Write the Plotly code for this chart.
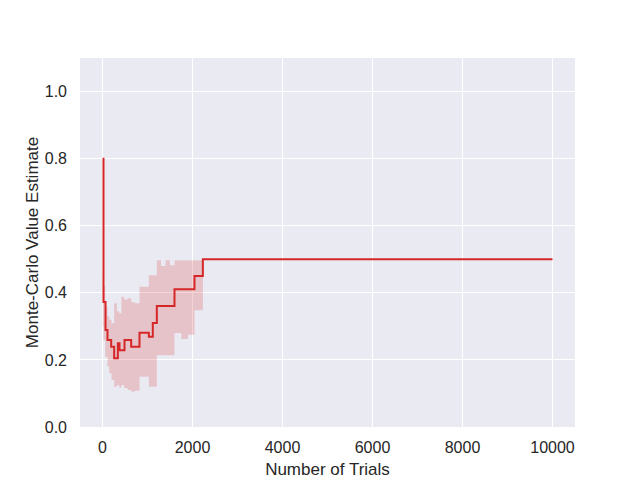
import plotly.graph_objects as go

# mean estimate (step line)
mean_trials = [1, 22, 67, 111, 193, 259, 341, 378, 489, 637, 822, 1030, 1118, 1207,
               1600, 2044, 2230, 10000]
mean_values = [0.80, 0.373, 0.289, 0.259, 0.239, 0.205, 0.250, 0.229, 0.259, 0.239,
               0.281, 0.269, 0.310, 0.361, 0.411, 0.450, 0.500, 0.500]

# confidence band edges
band_trials = [5, 22, 60, 110, 150, 200, 260, 320, 370, 420, 480, 560, 640, 720,
               822, 900, 1030, 1118, 1180, 1207, 1300, 1400, 1500, 1600, 1750, 1900,
               2044, 2230, 2231, 10000]
band_upper = [0.458, 0.420, 0.358, 0.330, 0.320, 0.309, 0.369, 0.345, 0.339, 0.388,
              0.380, 0.384, 0.372, 0.369, 0.418, 0.418, 0.452, 0.452, 0.452, 0.497,
              0.480, 0.497, 0.482, 0.497, 0.497, 0.497, 0.497, 0.497, 0.500, 0.500]
band_lower = [0.300, 0.259, 0.209, 0.180, 0.160, 0.140, 0.120, 0.125, 0.118, 0.125,
              0.116, 0.110, 0.105, 0.108, 0.150, 0.150, 0.120, 0.120, 0.120, 0.214,
              0.214, 0.214, 0.214, 0.280, 0.262, 0.275, 0.348, 0.348, 0.500, 0.500]

x_ticks = [0, 2000, 4000, 6000, 8000, 10000]
y_ticks = [0.0, 0.2, 0.4, 0.6, 0.8, 1.0]

red = '#d62728'

fig = go.Figure()

fig.add_trace(go.Scatter(
    x=band_trials, y=band_upper, mode='lines', line=dict(width=0, shape='hv'),
    showlegend=False, hoverinfo='skip'
))
fig.add_trace(go.Scatter(
    x=band_trials, y=band_lower, mode='lines', line=dict(width=0, shape='hv'),
    fill='tonexty', fillcolor='rgba(214,39,40,0.2)',
    showlegend=False, hoverinfo='skip'
))
fig.add_trace(go.Scatter(
    x=mean_trials, y=mean_values, mode='lines',
    line=dict(color=red, width=2, shape='hv'),
    showlegend=False
))

# page body adds an 8px offset, margins account for it
fig.update_layout(
    width=640, height=480,
    margin=dict(l=72, r=73, t=50, b=61),
    paper_bgcolor='white',
    plot_bgcolor='#EAEAF2',
    font=dict(family='Liberation Sans, Arial, sans-serif', size=16, color='#262626'),
)
fig.update_xaxes(
    range=[-500, 10500], tickvals=x_ticks, ticktext=[str(t) for t in x_ticks],
    showgrid=True, gridcolor='white', gridwidth=1.2, zeroline=False,
    ticks='', ticklabelstandoff=9, automargin=False,
    title=dict(text='Number of Trials', font=dict(size=17), standoff=8)
)
fig.update_yaxes(
    range=[0, 1.1], tickvals=y_ticks, tickformat='.1f',
    showgrid=True, gridcolor='white', gridwidth=1.2, zeroline=False,
    ticks='', ticklabelstandoff=12, automargin=False,
    title=dict(text='Monte-Carlo Value Estimate', font=dict(size=17), standoff=1)
)

fig.write_html("out.html")
